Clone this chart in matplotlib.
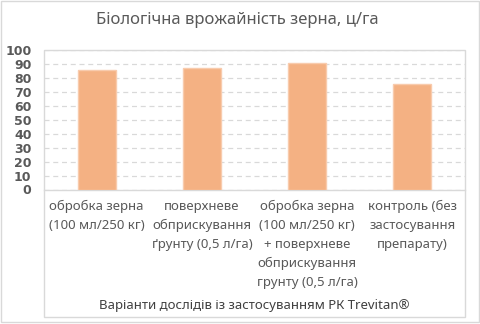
import matplotlib.pyplot as plt
from matplotlib.patches import Rectangle
from matplotlib.transforms import blended_transform_factory

plt.rcParams['font.family'] = ['Noto Sans', 'DejaVu Sans']

# врожайність по варіантах, ц/га
categories = [
    'обробка зерна\n(100 мл/250 кг)',
    'поверхневе\nобприскування\nґрунту (0,5 л/га)',
    'обробка зерна\n(100 мл/250 кг)\n+ поверхневе\nобприскування\nгрунту (0,5 л/га)',
    'контроль (без\nзастосування\nпрепарату)',
]
values = [85.7, 87.1, 90.7, 75.7]
yticks = list(range(0, 101, 10))

W, H = 480, 324
fig = plt.figure(figsize=(W / 100, H / 100), dpi=100)

left, right, top, bottom = 44, 465, 50, 189.5
ax = fig.add_axes([left / W, 1 - bottom / H, (right - left) / W, (bottom - top) / H])

x = range(len(values))
ax.bar(x, values, width=0.36, color='#F4B183', edgecolor='#F8CBAD', linewidth=1, zorder=3)
ax.set_xlim(-0.5, len(values) - 0.5)
ax.set_ylim(0, 100)
ax.set_yticks(yticks)
ax.set_yticklabels([str(t) for t in yticks], fontsize=9, fontweight='bold', color='#595959',
                   family=['DejaVu Sans'])
ax.tick_params(axis='y', length=0, pad=9)
ax.set_xticks([])
ax.yaxis.grid(True, linestyle=(0, (4, 3)), color='#D9D9D9', linewidth=0.9, zorder=0)
for s in ['top', 'left', 'right']:
    ax.spines[s].set_visible(False)
ax.spines['bottom'].set_color('#D9D9D9')
ax.spines['bottom'].set_linewidth(1)

# підписи категорій під віссю
trans = blended_transform_factory(ax.transData, fig.transFigure)
for i, lab in enumerate(categories):
    ax.text(i, 1 - 200 / H, lab, transform=trans, ha='center', va='top',
            fontsize=9.5, color='#595959', linespacing=1.6)

# рамка області побудови та зовнішня рамка
fig.patches.append(Rectangle((left / W, 1 - 317 / H), (right - left) / W, (317 - top) / H,
                             transform=fig.transFigure, fill=False, edgecolor='#D9D9D9', linewidth=1))
fig.patches.append(Rectangle((0.5 / W, 1 - 321.5 / H), 478 / W, 321 / H,
                             transform=fig.transFigure, fill=False, edgecolor='#D9D9D9', linewidth=1))

fig.text(0.495, 1 - 20 / H, 'Біологічна врожайність зерна, ц/га', ha='center', va='center',
         fontsize=12, color='#595959')
fig.text((left + right) / 2 / W, 1 - 305 / H, 'Варіанти дослідів із застосуванням РК Trevitan®',
         ha='center', va='center', fontsize=9.5, color='#404040')

fig.savefig('out.png', dpi=100)
